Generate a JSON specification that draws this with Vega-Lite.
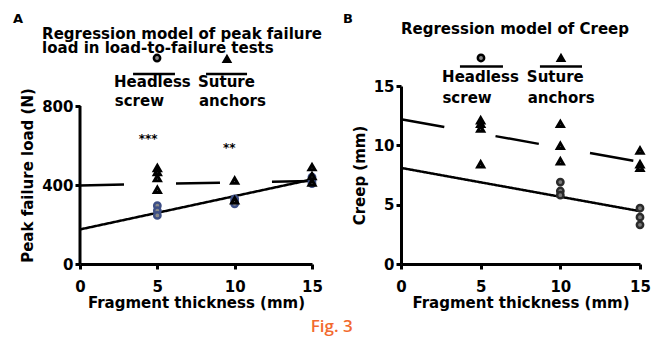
{
  "$schema": "https://vega.github.io/schema/vega-lite/v6.json",
  "background": "white",
  "padding": {"left": 13, "top": 12, "right": 0, "bottom": 1},
  "bounds": "flush",
  "spacing": 89,
  "title": {"text": "Fig. 3", "orient": "bottom", "anchor": "middle", "font": "Open Sans", "fontSize": 17, "fontWeight": 600, "color": "#F26A2E", "offset": 9},
  "config": {
    "view": {"stroke": null},
    "scale": {"nice": false},
    "axis": {"grid": false, "domainColor": "black", "domainWidth": 3, "tickColor": "black", "tickWidth": 3, "tickSize": 5, "labelFont": "DejaVu Sans", "labelFontWeight": "bold", "labelFontSize": 15, "labelColor": "black", "titleFont": "DejaVu Sans", "titleFontWeight": "bold", "titleFontSize": 15, "titleColor": "black"},
    "axisX": {"labelPadding": 10, "titlePadding": 1, "labelFlush": false},
    "axisY": {"labelPadding": 2, "titlePadding": 6},
    "text": {"font": "DejaVu Sans", "fontWeight": "bold", "fontSize": 15, "align": "left", "baseline": "alphabetic", "color": "black", "fill": "black"}
  },
  "datasets": {
    "note": [{}],
    "loadPoints": [
      {"group": "Headless screw", "thickness": 5, "load": 295},
      {"group": "Headless screw", "thickness": 5, "load": 270},
      {"group": "Headless screw", "thickness": 5, "load": 246},
      {"group": "Headless screw", "thickness": 10, "load": 330},
      {"group": "Headless screw", "thickness": 10, "load": 318},
      {"group": "Headless screw", "thickness": 10, "load": 305},
      {"group": "Headless screw", "thickness": 15, "load": 440},
      {"group": "Headless screw", "thickness": 15, "load": 422},
      {"group": "Headless screw", "thickness": 15, "load": 407},
      {"group": "Suture anchors", "thickness": 5, "load": 485},
      {"group": "Suture anchors", "thickness": 5, "load": 465},
      {"group": "Suture anchors", "thickness": 5, "load": 435},
      {"group": "Suture anchors", "thickness": 5, "load": 375},
      {"group": "Suture anchors", "thickness": 10, "load": 422},
      {"group": "Suture anchors", "thickness": 10, "load": 322},
      {"group": "Suture anchors", "thickness": 15, "load": 490},
      {"group": "Suture anchors", "thickness": 15, "load": 445},
      {"group": "Suture anchors", "thickness": 15, "load": 412}
    ],
    "loadFit": [
      {"group": "Headless screw", "thickness": 0, "load": 175},
      {"group": "Headless screw", "thickness": 15, "load": 428},
      {"group": "Suture anchors", "thickness": 0, "load": 398},
      {"group": "Suture anchors", "thickness": 15, "load": 420}
    ],
    "creepPoints": [
      {"group": "Suture anchors", "thickness": 5, "creep": 12.1},
      {"group": "Suture anchors", "thickness": 5, "creep": 11.8},
      {"group": "Suture anchors", "thickness": 5, "creep": 11.4},
      {"group": "Suture anchors", "thickness": 5, "creep": 8.4},
      {"group": "Suture anchors", "thickness": 10, "creep": 11.8},
      {"group": "Suture anchors", "thickness": 10, "creep": 9.95},
      {"group": "Suture anchors", "thickness": 10, "creep": 8.65},
      {"group": "Suture anchors", "thickness": 15, "creep": 9.55},
      {"group": "Suture anchors", "thickness": 15, "creep": 8.4},
      {"group": "Suture anchors", "thickness": 15, "creep": 8.1},
      {"group": "Headless screw", "thickness": 10, "creep": 6.9},
      {"group": "Headless screw", "thickness": 10, "creep": 6.15},
      {"group": "Headless screw", "thickness": 10, "creep": 5.8},
      {"group": "Headless screw", "thickness": 15, "creep": 4.7},
      {"group": "Headless screw", "thickness": 15, "creep": 3.95},
      {"group": "Headless screw", "thickness": 15, "creep": 3.3}
    ],
    "creepFit": [
      {"group": "Headless screw", "thickness": 0, "creep": 8.1},
      {"group": "Headless screw", "thickness": 15, "creep": 4.45},
      {"group": "Suture anchors", "thickness": 0, "creep": 12.2},
      {"group": "Suture anchors", "thickness": 15, "creep": 8.6}
    ]
  },
  "hconcat": [
    {
      "width": 232,
      "height": 178,
      "layer": [
        {
          "data": {"name": "loadFit"},
          "mark": {"type": "line", "color": "black", "strokeWidth": 2.5},
          "encoding": {
            "x": {"field": "thickness", "type": "quantitative", "scale": {"domain": [0, 15], "nice": false}, "axis": {"values": [0, 5, 10, 15], "title": "Fragment thickness (mm)"}},
            "y": {"field": "load", "type": "quantitative", "scale": {"domain": [0, 901.27], "nice": false}, "axis": {"values": [0, 400, 800], "title": "Peak failure load (N)", "domain": false}},
            "detail": {"field": "group"},
            "strokeDash": {"field": "group", "type": "nominal", "scale": {"domain": ["Headless screw", "Suture anchors"], "range": [[1, 0], [44, 52]]}, "legend": null}
          }
        },
        {"data": {"name": "note"}, "mark": {"type": "rule", "color": "black", "strokeWidth": 3}, "encoding": {"x": {"datum": 0}, "y": {"datum": 0}, "y2": {"datum": 800}}},
        {
          "data": {"name": "loadPoints"},
          "transform": [{"filter": "datum.group == 'Headless screw'"}],
          "mark": {"type": "point", "shape": "circle", "size": 40, "fill": "#8a8a8a", "stroke": "#3d4f86", "strokeWidth": 2.5, "opacity": 1, "fillOpacity": 1},
          "encoding": {"x": {"field": "thickness", "type": "quantitative"}, "y": {"field": "load", "type": "quantitative"}}
        },
        {
          "data": {"name": "loadPoints"},
          "transform": [{"filter": "datum.group == 'Suture anchors'"}],
          "mark": {"type": "point", "shape": "triangle-up", "size": 36, "fill": "white", "stroke": "black", "strokeWidth": 3, "opacity": 1, "fillOpacity": 1},
          "encoding": {"x": {"field": "thickness", "type": "quantitative"}, "y": {"field": "load", "type": "quantitative"}}
        },
        {"data": {"name": "note"}, "mark": {"type": "text", "text": "A", "fontSize": 13, "fill": "black"}, "encoding": {"x": {"datum": -4.33}, "y": {"datum": 1220}}},
        {"data": {"name": "note"}, "mark": {"type": "text", "text": "Regression model of peak failure", "fill": "black"}, "encoding": {"x": {"datum": -2.45}, "y": {"datum": 1140}}},
        {"data": {"name": "note"}, "mark": {"type": "text", "text": "load in load-to-failure tests", "fill": "black"}, "encoding": {"x": {"datum": -2.45}, "y": {"datum": 1070}}},
        {"data": {"name": "note"}, "mark": {"type": "point", "shape": "circle", "size": 40, "fill": "#8a8a8a", "stroke": "black", "strokeWidth": 2.5, "opacity": 1}, "encoding": {"x": {"datum": 4.98}, "y": {"datum": 1043}}},
        {"data": {"name": "note"}, "mark": {"type": "rule", "color": "black", "strokeWidth": 2.5}, "encoding": {"x": {"datum": 3.43}, "x2": {"datum": 6.14}, "y": {"datum": 962}}},
        {"data": {"name": "note"}, "mark": {"type": "text", "text": "Headless", "fill": "black"}, "encoding": {"x": {"datum": 2.2}, "y": {"datum": 896}}},
        {"data": {"name": "note"}, "mark": {"type": "text", "text": "screw", "fill": "black"}, "encoding": {"x": {"datum": 2.25}, "y": {"datum": 802}}},
        {"data": {"name": "note"}, "mark": {"type": "point", "shape": "triangle-up", "size": 40, "fill": "black", "stroke": "black", "strokeWidth": 2.5, "opacity": 1}, "encoding": {"x": {"datum": 9.5}, "y": {"datum": 1038}}},
        {"data": {"name": "note"}, "mark": {"type": "rule", "color": "black", "strokeWidth": 2.5}, "encoding": {"x": {"datum": 8.15}, "x2": {"datum": 10.8}, "y": {"datum": 962}}},
        {"data": {"name": "note"}, "mark": {"type": "text", "text": "Suture", "fill": "black"}, "encoding": {"x": {"datum": 7.63}, "y": {"datum": 896}}},
        {"data": {"name": "note"}, "mark": {"type": "text", "text": "anchors", "fill": "black"}, "encoding": {"x": {"datum": 7.69}, "y": {"datum": 802}}},
        {"data": {"name": "note"}, "mark": {"type": "text", "text": "***", "fontSize": 12, "align": "center", "fill": "black"}, "encoding": {"x": {"datum": 4.4}, "y": {"datum": 615}}},
        {"data": {"name": "note"}, "mark": {"type": "text", "text": "**", "fontSize": 12, "align": "center", "fill": "black"}, "encoding": {"x": {"datum": 9.65}, "y": {"datum": 567}}}
      ]
    },
    {
      "width": 239,
      "height": 178,
      "layer": [
        {
          "data": {"name": "creepFit"},
          "mark": {"type": "line", "color": "black", "strokeWidth": 2.5},
          "encoding": {
            "x": {"field": "thickness", "type": "quantitative", "scale": {"domain": [0, 15], "nice": false}, "axis": {"values": [0, 5, 10, 15], "title": "Fragment thickness (mm)"}},
            "y": {"field": "creep", "type": "quantitative", "scale": {"domain": [0, 15], "nice": false}, "axis": {"values": [0, 5, 10, 15], "title": "Creep (mm)"}},
            "detail": {"field": "group"},
            "strokeDash": {"field": "group", "type": "nominal", "scale": {"domain": ["Headless screw", "Suture anchors"], "range": [[1, 0], [43, 47]]}, "legend": null}
          }
        },
        {
          "data": {"name": "creepPoints"},
          "transform": [{"filter": "datum.group == 'Headless screw'"}],
          "mark": {"type": "point", "shape": "circle", "size": 40, "fill": "#7a7a7a", "stroke": "#2b2b2b", "strokeWidth": 2.5, "opacity": 1, "fillOpacity": 1},
          "encoding": {"x": {"field": "thickness", "type": "quantitative"}, "y": {"field": "creep", "type": "quantitative"}}
        },
        {
          "data": {"name": "creepPoints"},
          "transform": [{"filter": "datum.group == 'Suture anchors'"}],
          "mark": {"type": "point", "shape": "triangle-up", "size": 36, "fill": "white", "stroke": "black", "strokeWidth": 3, "opacity": 1, "fillOpacity": 1},
          "encoding": {"x": {"field": "thickness", "type": "quantitative"}, "y": {"field": "creep", "type": "quantitative"}}
        },
        {"data": {"name": "note"}, "mark": {"type": "text", "text": "B", "fontSize": 13, "fill": "black"}, "encoding": {"x": {"datum": -3.64}, "y": {"datum": 20.31}}},
        {"data": {"name": "note"}, "mark": {"type": "text", "text": "Regression model of Creep", "fill": "black"}, "encoding": {"x": {"datum": 0.0}, "y": {"datum": 19.36}}},
        {"data": {"name": "note"}, "mark": {"type": "point", "shape": "circle", "size": 40, "fill": "#8a8a8a", "stroke": "black", "strokeWidth": 2.5, "opacity": 1}, "encoding": {"x": {"datum": 5.02}, "y": {"datum": 17.36}}},
        {"data": {"name": "note"}, "mark": {"type": "rule", "color": "black", "strokeWidth": 2.5}, "encoding": {"x": {"datum": 3.7}, "x2": {"datum": 6.4}, "y": {"datum": 16.64}}},
        {"data": {"name": "note"}, "mark": {"type": "text", "text": "Headless", "fill": "black"}, "encoding": {"x": {"datum": 2.58}, "y": {"datum": 15.34}}},
        {"data": {"name": "note"}, "mark": {"type": "text", "text": "screw", "fill": "black"}, "encoding": {"x": {"datum": 2.6}, "y": {"datum": 13.57}}},
        {"data": {"name": "note"}, "mark": {"type": "point", "shape": "triangle-up", "size": 40, "fill": "black", "stroke": "black", "strokeWidth": 2.5, "opacity": 1}, "encoding": {"x": {"datum": 10.04}, "y": {"datum": 17.36}}},
        {"data": {"name": "note"}, "mark": {"type": "rule", "color": "black", "strokeWidth": 2.5}, "encoding": {"x": {"datum": 8.72}, "x2": {"datum": 11.36}, "y": {"datum": 16.64}}},
        {"data": {"name": "note"}, "mark": {"type": "text", "text": "Suture", "fill": "black"}, "encoding": {"x": {"datum": 7.9}, "y": {"datum": 15.34}}},
        {"data": {"name": "note"}, "mark": {"type": "text", "text": "anchors", "fill": "black"}, "encoding": {"x": {"datum": 7.95}, "y": {"datum": 13.57}}}
      ]
    }
  ]
}
